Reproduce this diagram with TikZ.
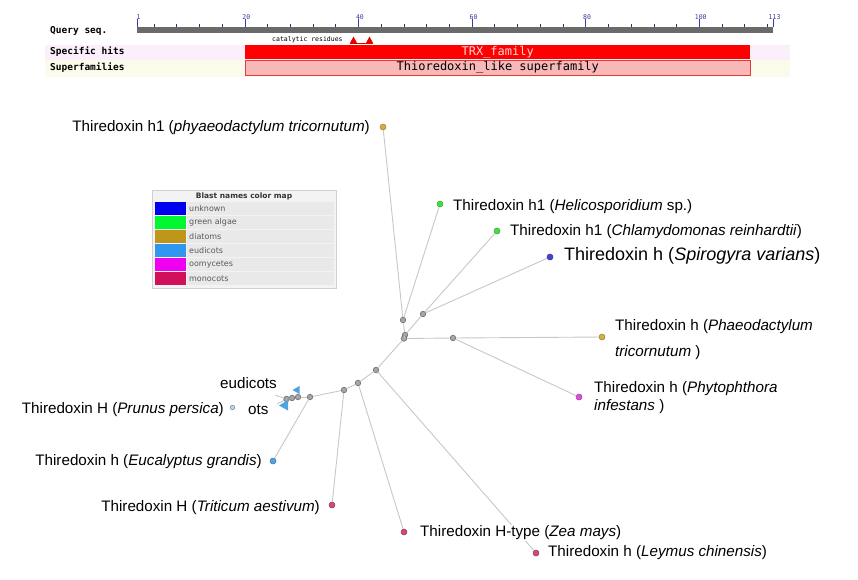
\documentclass[tikz,border=0pt]{standalone}
\usepackage{fontspec}
\setmainfont{Liberation Sans}
\newfontfamily\monob{DejaVu Sans Mono}
\newfontfamily\legf{DejaVu Sans}
\definecolor{diat}{HTML}{D4AE40}
\definecolor{galg}{HTML}{44DD44}
\definecolor{unk}{HTML}{4444CC}
\definecolor{eud}{HTML}{4FA3E0}
\definecolor{oom}{HTML}{D84FD8}
\definecolor{mono}{HTML}{D04A78}
\definecolor{edgec}{HTML}{C8C8C8}
\definecolor{tickb}{HTML}{3A3AA8}
\definecolor{rowpink}{HTML}{FBEFFB}
\definecolor{rowyel}{HTML}{FBFBEC}
\definecolor{rulerg}{HTML}{6A6A6A}
\definecolor{trxtxt}{HTML}{FFD7D7}
\definecolor{supfill}{HTML}{F8B8B8}
\definecolor{supdraw}{HTML}{E13C3C}
\definecolor{legbg}{HTML}{F3F3F3}
\definecolor{legbd}{HTML}{D0D0D0}
\definecolor{legrow}{HTML}{E9E9E9}
\definecolor{lc1}{HTML}{0000F0}
\definecolor{lc2}{HTML}{00F830}
\definecolor{lc3}{HTML}{C0961A}
\definecolor{lc4}{HTML}{3096F0}
\definecolor{lc5}{HTML}{F000F0}
\definecolor{lc6}{HTML}{D0105A}
\tikzset{
  edge/.style={draw=edgec, line width=0.9pt},
  inode/.style={circle, draw=black!55, fill=black!35, line width=0.7pt, inner sep=0pt, minimum size=5.5pt},
  leaf/.style={circle, draw=#1!75!black, fill=#1, line width=0.5pt, inner sep=0pt, minimum size=6pt},
  lab/.style={font=\fontsize{15.2}{17}\selectfont, inner sep=1pt},
  biglab/.style={font=\fontsize{18}{20}\selectfont, inner sep=1pt},
  rowlab/.style={font=\monob\bfseries\fontsize{9.5}{11}\selectfont, anchor=west, inner sep=0pt},
  tlab/.style={font=\monob\fontsize{6.5}{7}\selectfont, text=tickb, inner sep=0pt, anchor=south},
  legtxt/.style={font=\legf\fontsize{8}{9}\selectfont, text=black!65, anchor=west, inner sep=0pt},
  collapsed/.style={fill=eud, draw=none}
}
\begin{document}
\begin{tikzpicture}[x=1pt,y=-1pt]
\useasboundingbox (0,0) rectangle (858,579);
\fill[white] (0,0) rectangle (858,579);
% ---------- top domain panel ----------
\fill[rowpink] (45,45) rectangle (790,60);
\fill[rowyel] (45,60) rectangle (790,77);
\node[rowlab] (qs) at (50,31) {Query seq.};
\node[rowlab] (sh) at (50,51.5) {Specific hits};
\node[rowlab] (sf) at (50,67.5) {Superfamilies};
\fill[rulerg] (137,27) rectangle (773,33);
\foreach \n in {4,8,...,112}{
  \draw[tickb!80!black, line width=0.6pt] ({137+(\n-1)*5.679},23.5) -- ({137+(\n-1)*5.679},27);
}
\foreach \n in {1,20,40,60,80,100,113}{
  \draw[tickb, line width=0.8pt] ({137+(\n-1)*5.679},19) -- ({137+(\n-1)*5.679},27);
  \node[tlab] at ({137+(\n-1)*5.679+1.5},19.5) {\n};
}
\node[font=\monob\fontsize{6.5}{7}\selectfont, inner sep=0pt, anchor=west] (cr) at (272,39.5) {catalytic residues};
\fill[red!90!black] (350,43) -- (353.5,36.5) -- (357,43) -- cycle;
\fill[red!90!black] (366,43) -- (369.5,36.5) -- (373,43) -- cycle;
\draw[red!90!black, line width=0.6pt] (350,43) -- (373,43);
\node[fill=red, minimum width=505pt, minimum height=14pt, inner sep=0pt, anchor=north west] (trx) at (245,45) {};
\node[font=\monob\fontsize{12}{13}\selectfont, text=trxtxt, inner sep=0pt] (trxt) at ([yshift=-0.5pt]trx.center) {TRX\_family};
\node[fill=supfill, draw=supdraw, line width=0.6pt,
  minimum width=505pt, minimum height=15pt, inner sep=0pt, anchor=north west,
  font=\monob\fontsize{12}{13}\selectfont] (sup) at (245,60) {Thioredoxin\_like superfamily};
% ---------- legend ----------
\fill[legbg] (152,190) rectangle (336,288);
\draw[legbd, line width=0.6pt] (152,190) rectangle (336,288);
\node[font=\legf\bfseries\fontsize{7.5}{9}\selectfont, text=black!80, inner sep=0pt] (lt) at (244,196.5) {Blast names color map};
\foreach \c/\t [count=\k from 0] in {lc1/unknown,lc2/green algae,lc3/diatoms,lc4/eudicots,lc5/oomycetes,lc6/monocots}{
  \fill[legrow] (187,{202+14*\k}) rectangle (334,{215+14*\k});
  \fill[\c] (154.5,{202+14*\k}) rectangle (186,{215+14*\k});
  \node[legtxt] at (189,{208.5+14*\k}) {\t};
}
% ---------- tree nodes ----------
\node[inode] (a) at (403,320) {};
\node[inode] (b) at (423,314) {};
\node[inode] (c1) at (405,335) {};
\node[inode] (c2) at (404,338.5) {};
\node[inode] (d) at (453,338) {};
\node[inode] (e) at (376,370) {};
\node[inode] (f) at (358,383) {};
\node[inode] (g) at (344,390) {};
\node[inode] (h) at (310,397) {};
\node[inode] (i1) at (298,397) {};
\node[inode] (i2) at (292,398) {};
\node[inode] (i3) at (286.5,399) {};
\coordinate (s1) at (275,395);
\coordinate (s2) at (277,404);
% leaves
\node[leaf=diat] (l1) at (383,127) {};
\node[leaf=galg] (l2) at (440,204) {};
\node[leaf=galg] (l3) at (497,231) {};
\node[leaf=unk] (l4) at (550,257) {};
\node[leaf=diat] (l5) at (602,337) {};
\node[leaf=oom] (l6) at (579,397) {};
\node[circle, draw=black!45, fill=eud!40, line width=0.6pt, inner sep=0pt, minimum size=4.5pt] (l7) at (232.5,407.5) {};
\node[leaf=eud] (l8) at (273,461) {};
\node[leaf=mono] (l9) at (332,505) {};
\node[leaf=mono] (l10) at (404,532) {};
\node[leaf=mono] (l11) at (536,553) {};
% edges
\draw[edge] (a) -- (l1);
\draw[edge] (a) -- (l2);
\draw[edge] (b) -- (l3);
\draw[edge] (b) -- (l4);
\draw[edge] (c1) -- (a);
\draw[edge] (c1) -- (b);
\draw[edge] (c2) -- (c1);
\draw[edge] (c2) -- (d);
\draw[edge] (d) -- (l5);
\draw[edge] (d) -- (l6);
\draw[edge] (e) -- (c2);
\draw[edge] (e) -- (l11);
\draw[edge] (e) -- (f);
\draw[edge] (f) -- (l10);
\draw[edge] (f) -- (g);
\draw[edge] (g) -- (l9);
\draw[edge] (g) -- (h);
\draw[edge] (h) -- (l8);
\draw[edge] (h) -- (i1);
\draw[edge] (i1) -- (i2);
\draw[edge] (i2) -- (i3);
\draw[edge] (i3) -- (s1);
\draw[edge] (i3) -- (s2);
% collapsed markers
\fill[collapsed] (292.5,390) -- (299.5,386) -- (299.5,394) -- cycle;
\fill[collapsed] (279,405.5) -- (288,400) -- (288,410.5) -- cycle;
% ---------- labels ----------
\node[lab, anchor=east] (t1) at (371,128) {Thiredoxin h1 (\textit{phyaeodactylum tricornutum})};
\node[lab, anchor=west] (t2) at (452,207) {Thiredoxin h1 (\textit{Helicosporidium} sp.)};
\node[lab, anchor=west] (t3) at (509,232) {Thiredoxin h1 (\textit{Chlamydomonas reinhardtii})};
\node[biglab, anchor=west] (t4) at (563,256) {Thiredoxin h (\textit{Spirogyra varians})};
\node[lab, anchor=west] (t5a) at (614,327) {Thiredoxin h (\textit{Phaeodactylum}};
\node[lab, anchor=west] (t5b) at (614,353) {\textit{tricornutum} )};
\node[lab, anchor=west] (t6a) at (593,389) {Thiredoxin h (\textit{Phytophthora}};
\node[lab, anchor=west] (t6b) at (593,407) {\textit{infestans} )};
\node[lab, anchor=east] (t7) at (225,410) {Thiredoxin H (\textit{Prunus persica})};
\node[lab, anchor=west] (eu) at (219,383) {eudicots};
\node[lab, anchor=west] (ot) at (247,410) {ots};
\node[lab, anchor=east] (t8) at (263,462) {Thiredoxin h (\textit{Eucalyptus grandis})};
\node[lab, anchor=east] (t9) at (321,508) {Thiredoxin H (\textit{Triticum aestivum})};
\node[lab, anchor=west, fill=white] (t10) at (419,533) {Thiredoxin H-type (\textit{Zea mays})};
\node[lab, anchor=west] (t11) at (547,553) {Thiredoxin h (\textit{Leymus chinensis})};
\end{tikzpicture}
\end{document}
